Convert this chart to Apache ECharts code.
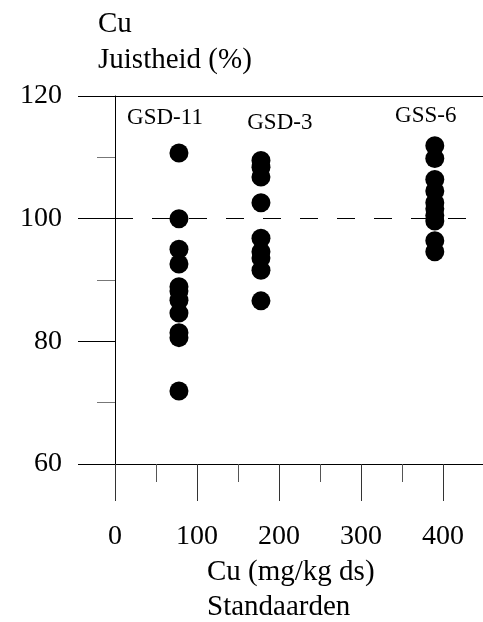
<!DOCTYPE html>
<html>
<head>
<meta charset="utf-8">
<script src="https://cdn.jsdelivr.net/npm/echarts@6/dist/echarts.min.js"></script>
<style>
  html, body { margin: 0; padding: 0; background: #fff; }
  #chart { width: 483px; height: 622px; }
</style>
</head>
<body>
<div id="chart"></div>
<script>
// Reference materials and their Cu concentration (mg/kg ds)
const standards = ['GSD-11', 'GSD-3', 'GSS-6'];
const concentrations = [78, 178, 390];

// Recovery (%) per replicate measurement of each standard
const gsd11 = [110.7, 100.0, 95.0, 92.6, 88.9, 88.2, 86.7, 84.6, 81.4, 80.6, 71.9];
const gsd3 = [109.5, 108.4, 106.8, 102.6, 96.8, 94.6, 93.6, 91.6, 86.6];
const gss6 = [111.9, 109.8, 106.4, 104.5, 102.6, 101.6, 100.5, 99.6, 96.4, 94.6];
const recoveries = [gsd11, gsd3, gss6];

// Where each standard's name sits, in axis units
const nameX = [61, 201, 379];
const nameY = [116.4, 115.6, 116.8];

const targetRecovery = 100;
const yTicks = ['60', '80', '100', '120'];
const xTicks = ['0', '100', '200', '300', '400'];

const FONT = '"Liberation Serif", "Times New Roman", serif';

const points = [];
recoveries.forEach((vals, i) => {
  vals.forEach(v => points.push([concentrations[i], v]));
});
const nameData = standards.map((s, i) => ({ value: [nameX[i], nameY[i]], name: s }));

const chart = echarts.init(document.getElementById('chart'), null, { renderer: 'canvas' });

chart.setOption({
  animation: false,
  backgroundColor: '#fff',
  title: [
    {
      text: 'Cu\nJuistheid (%)',
      left: 93, top: 1,
      textStyle: { fontFamily: FONT, fontSize: 29, fontWeight: 'normal', color: '#000', lineHeight: 36 }
    },
    {
      text: 'Cu (mg/kg ds)\nStandaarden',
      left: 202, top: 550,
      textStyle: { fontFamily: FONT, fontSize: 29, fontWeight: 'normal', color: '#000', lineHeight: 35 }
    }
  ],
  grid: {
    left: 115, top: 96, width: 410, height: 368,
    containLabel: false, outerBoundsMode: 'none'
  },
  xAxis: [
    {
      type: 'value', min: 0, max: 500, interval: 100,
      axisLine: { show: true, lineStyle: { color: '#000', width: 1 } },
      axisTick: { show: true, inside: false, length: 37, lineStyle: { color: '#333', width: 1 } },
      minorTick: { show: true, splitNumber: 2, length: 18, lineStyle: { color: '#555', width: 1 } },
      splitLine: { show: false },
      axisLabel: {
        margin: 59, fontFamily: FONT, fontSize: 28, color: '#000',
        formatter: v => (xTicks.includes(String(v)) ? String(v) : '')
      }
    },
    {
      type: 'value', position: 'top', min: 0, max: 500,
      axisLine: { show: true, onZero: false, lineStyle: { color: '#000', width: 1 } },
      axisTick: { show: false }, axisLabel: { show: false }, splitLine: { show: false }
    }
  ],
  yAxis: {
    type: 'value', min: 60, max: 120, interval: 20,
    axisLine: { show: true, onZero: false, lineStyle: { color: '#000', width: 1 } },
    axisTick: { show: true, inside: false, length: 37, lineStyle: { color: '#000', width: 1 } },
    minorTick: { show: true, splitNumber: 2, length: 18, lineStyle: { color: '#777', width: 1 } },
    splitLine: { show: false },
    axisLabel: {
      margin: 53, fontFamily: FONT, fontSize: 28, color: '#000',
      formatter: v => (yTicks.includes(String(v)) ? String(v) : '')
    }
  },
  series: [
    {
      type: 'scatter',
      data: points,
      symbol: 'circle',
      symbolSize: 19,
      itemStyle: { color: '#000', opacity: 1 },
      z: 3,
      markLine: {
        silent: true,
        symbol: ['none', 'none'],
        label: { show: false },
        lineStyle: { color: '#000', width: 1, type: [18, 19] },
        data: [{ yAxis: targetRecovery }]
      }
    },
    {
      type: 'scatter',
      data: nameData,
      symbolSize: 0,
      silent: true,
      itemStyle: { color: '#000', opacity: 1 },
      label: {
        show: true, position: 'inside', formatter: p => p.name,
        fontFamily: FONT, fontSize: 23, color: '#000', opacity: 1
      }
    }
  ]
});
</script>
</body>
</html>
